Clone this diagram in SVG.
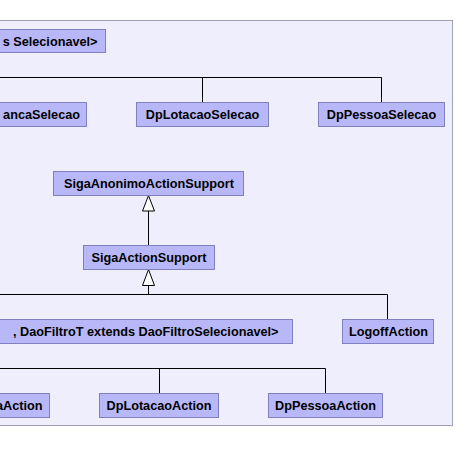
<svg xmlns="http://www.w3.org/2000/svg" width="455" height="463" viewBox="0 0 455 463">
<style>
.node rect{fill:#b8b8f8;stroke:#8080c0;stroke-width:1}
.node text{font-family:"Liberation Sans",Arial,sans-serif;font-weight:bold;font-size:12.7px;fill:#000}
.conn line{stroke:#000;stroke-width:1;fill:none}
.conn polygon{fill:#fff;stroke:#000;stroke-width:1}
</style>
<rect x="0" y="0" width="455" height="463" fill="#fff"/>
<rect id="container" x="-10" y="20.5" width="462.5" height="405" fill="#eeeefd" stroke="#a0a0b4" stroke-width="1"/>
<g class="conn" id="connectors">
<line x1="-10" y1="77.5" x2="381.5" y2="77.5"/>
<line x1="202.5" y1="77.5" x2="202.5" y2="102.5"/>
<line x1="381.5" y1="77.5" x2="381.5" y2="102.5"/>
<line x1="148.5" y1="211" x2="148.5" y2="245.5"/>
<polygon points="148.5,195.5 142.5,211 154.5,211"/>
<line x1="148.5" y1="285.5" x2="148.5" y2="294.5"/>
<polygon points="148.5,269.5 142.5,285.5 154.5,285.5"/>
<line x1="-10" y1="294.5" x2="387.5" y2="294.5"/>
<line x1="387.5" y1="294.5" x2="387.5" y2="319.5"/>
<line x1="-10" y1="368.5" x2="325.5" y2="368.5"/>
<line x1="159.5" y1="368.5" x2="159.5" y2="393.5"/>
<line x1="325.5" y1="368.5" x2="325.5" y2="393.5"/>
</g>
<g class="node" id="n-selecionavel"><rect x="-10" y="29.5" width="115.5" height="23"/><text x="97.5" y="45.5" text-anchor="end">s Selecionavel&gt;</text></g>
<g class="node" id="n-ancaselecao"><rect x="-10" y="102.5" width="96.5" height="24"/><text x="80" y="119" text-anchor="end">ancaSelecao</text></g>
<g class="node" id="n-dplotacaoselecao"><rect x="136.5" y="102.5" width="132" height="24"/><text x="202.5" y="119" text-anchor="middle">DpLotacaoSelecao</text></g>
<g class="node" id="n-dppessoaselecao"><rect x="318.5" y="102.5" width="126" height="24"/><text x="381.5" y="119" text-anchor="middle">DpPessoaSelecao</text></g>
<g class="node" id="n-sigaanonimo"><rect x="53.5" y="171.5" width="190" height="24"/><text x="149" y="188" text-anchor="middle">SigaAnonimoActionSupport</text></g>
<g class="node" id="n-sigaaction"><rect x="83.5" y="245.5" width="131" height="24"/><text x="149" y="262" text-anchor="middle">SigaActionSupport</text></g>
<g class="node" id="n-daofiltro"><rect x="-10" y="319.5" width="302.5" height="24"/><text x="278.5" y="336" text-anchor="end">, DaoFiltroT extends DaoFiltroSelecionavel&gt;</text></g>
<g class="node" id="n-logoff"><rect x="342.5" y="319.5" width="91" height="24"/><text x="388.5" y="336" text-anchor="middle">LogoffAction</text></g>
<g class="node" id="n-aaction"><rect x="-10" y="393.5" width="59.5" height="24"/><text x="42.5" y="410" text-anchor="end">aAction</text></g>
<g class="node" id="n-dplotacaoaction"><rect x="99.5" y="393.5" width="119" height="24"/><text x="159" y="410" text-anchor="middle">DpLotacaoAction</text></g>
<g class="node" id="n-dppessoaaction"><rect x="268.5" y="393.5" width="114" height="24"/><text x="325.5" y="410" text-anchor="middle">DpPessoaAction</text></g>
</svg>
